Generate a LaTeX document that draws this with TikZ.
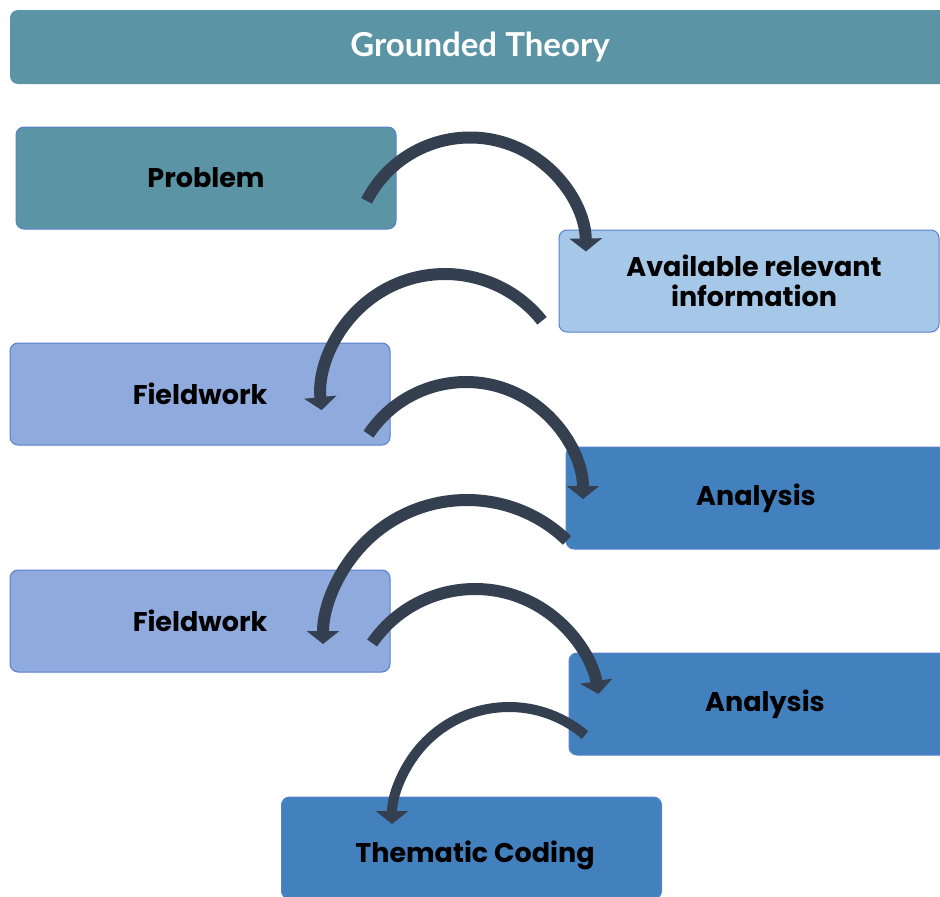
\documentclass[tikz,border=0pt]{standalone}
\usepackage{fontspec}
\usetikzlibrary{arrows.meta,calc}
\newfontfamily\boxfont{Poppins}
\newfontfamily\titlefont{Lato}
\definecolor{teal}{RGB}{90,148,165}
\definecolor{lightblue}{RGB}{166,200,232}
\definecolor{fieldblue}{RGB}{143,170,220}
\definecolor{darkblue}{RGB}{66,129,190}
\definecolor{edgeblue}{RGB}{88,128,205}
\definecolor{arrowdark}{RGB}{52,63,80}
\tikzset{
  stepbox/.style={draw=edgeblue, line width=1pt, rounded corners=8pt,
    minimum width=380pt, minimum height=102pt, inner sep=0pt,
    font=\boxfont\bfseries\fontsize{27}{30}\selectfont, text=black, align=center},
  flow/.style={draw=arrowdark, line width=12pt,
    -{Triangle[width=32pt,length=13pt]}},
}
\begin{document}
\begin{tikzpicture}[x=1pt,y=-1pt]
\useasboundingbox (0,0) rectangle (940,897);
\clip (0,0) rectangle (940,897);
\node[fill=teal, rounded corners=8pt, minimum width=940pt, minimum height=74pt, inner sep=0pt,
  text=white, font=\titlefont\bfseries\fontsize{33}{36}\selectfont] (title) at (480,47) {Grounded Theory};
\node[stepbox, fill=teal] (problem) at (206,178) {Problem};
\node[stepbox, fill=lightblue] (info) at (749,281) {\hspace*{10pt}Available relevant\\\hspace*{10pt}information};
\node[stepbox, fill=fieldblue] (field1) at (200,394) {Fieldwork};
\node[stepbox, fill=darkblue] (analysis1) at (756,498) {Analysis};
\node[stepbox, fill=fieldblue] (field2) at (200,621) {Fieldwork};
\node[stepbox, fill=darkblue] (analysis2) at (759,704) {\hspace*{12pt}Analysis};
\node[stepbox, fill=darkblue] (coding) at (471.5,848) {\hspace*{7pt}\raisebox{-7pt}[\height][\depth]{Thematic Coding}};
% arc centres
\coordinate (c1) at (470,253.5);
\coordinate (c2) at (445,398);
\coordinate (c3) at (466,499);
\coordinate (c4) at (467,644);
\coordinate (c5) at (475,714);
\coordinate (c6) at (509,824);
\draw[flow] (c1) ++(-153:116) arc[start angle=-153, end angle=-1, radius=116];
\draw[flow] (c2) ++(-38.5:124) arc[start angle=-38.5, end angle=-185.6, radius=124];
\draw[flow] (c3) ++(-146.4:117) arc[start angle=-146.4, end angle=0, radius=117];
\draw[flow] (c4) ++(-46:144) arc[start angle=-46, end angle=-180, radius=144];
\draw[flow] (c5) ++(-145.4:125) arc[start angle=-145.4, end angle=-9.2, radius=125];
\draw[flow, line width=10pt] (c6) ++(-49.5:117) arc[start angle=-49.5, end angle=-180, radius=117];
\end{tikzpicture}
\end{document}
